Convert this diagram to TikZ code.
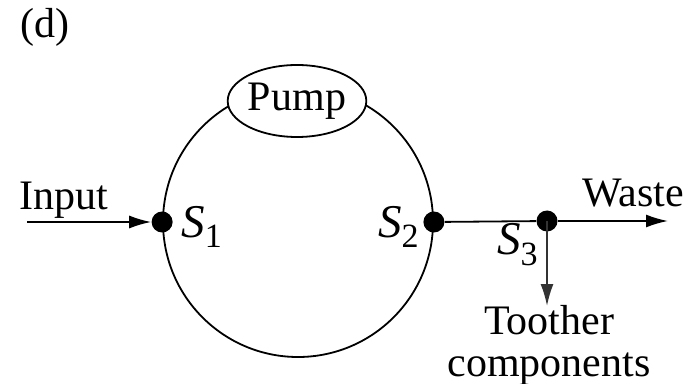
\documentclass[tikz,border=0pt]{standalone}
\usepackage{fontspec}
\setmainfont{Liberation Serif}
\usetikzlibrary{positioning,arrows.meta,shapes.geometric}

% point label: italic S with a small lowered index
\newcommand{\sname}[1]{\textit{S}\raisebox{-5.5pt}{\fontsize{17}{18}\selectfont #1}}

\begin{document}
\begin{tikzpicture}[
    x=0.5pt, y=-0.5pt,
    font=\fontsize{21}{19}\selectfont,
    loop/.style={draw, circle, line width=0.9pt, minimum size=135pt, inner sep=0pt},
    pumpbox/.style={draw, ellipse, fill=white, line width=0.9pt, minimum width=68pt, minimum height=36pt, inner sep=0pt},
    junction/.style={circle, fill=black, minimum size=10.5pt, inner sep=0pt},
    slabel/.style={inner sep=0pt, font=\fontsize{23.5}{26}\selectfont},
    flow/.style={-{Latex[length=11pt, width=6.5pt]}, line width=0.9pt},
  ]
  \useasboundingbox (0,0) rectangle (699,384);

  % Circuit: ring with pump on top
  \node[loop] (ring) at (298,222) {};
  \node[pumpbox] (pump) at (297,101) {Pump};

  % Junction points
  \node[junction] (s1) at (ring.west) {};
  \node[junction] (s2) at (ring.east) {};
  \node[junction] (s3) at (547,221) {};

  \node[slabel, anchor=base west] (l1) at (181,237) {\sname{1}};
  \node[slabel, anchor=base east] (l2) at (419,237) {\sname{2}};
  \node[slabel, anchor=base east] (l3) at (538,255) {\sname{3}};

  % Ends of the open connectors
  \coordinate (in) at (27,222);
  \coordinate (out) at (668,221);
  \coordinate (down) at (547,306);

  % Texts
  \node[anchor=base west, inner sep=0pt] (tag) at (20,38) {(d)};
  \node[anchor=base west, inner sep=0pt] (inputlbl) at (19,210) {Input};
  \node[anchor=base west, inner sep=0pt] (wastelbl) at (582,206) {Waste};
  \node[anchor=north, align=center, inner sep=0pt] (otherlbl) at (549,305) {Toother\\[2pt]components};

  % Flows
  \draw[flow] (in) -- (s1);
  \draw[line width=0.9pt] (s2) -- (s3);
  \draw[flow] (s3) -- (out);
  \draw[flow, black!80] (s3.center) -- (down);

\end{tikzpicture}
\end{document}
